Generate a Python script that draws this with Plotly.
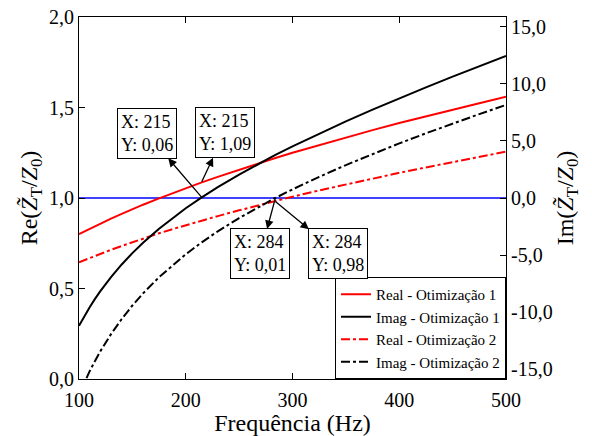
import plotly.graph_objects as go

# ---- data ----
freq = [100, 105, 110, 115, 120, 130, 140, 150, 160, 175, 190, 200, 215, 230,
        250, 270, 284, 300, 325, 350, 375, 400, 425, 450, 475, 500]

real_opt1 = [0.800, 0.815, 0.830, 0.844, 0.859, 0.886, 0.912, 0.938, 0.963, 0.998,
             1.032, 1.054, 1.086, 1.117, 1.157, 1.195, 1.221, 1.250, 1.293, 1.335,
             1.375, 1.414, 1.452, 1.488, 1.524, 1.559]

imag_opt1 = [-11.200, -10.354, -9.572, -8.844, -8.165, -6.929, -5.827, -4.831, -3.923,
             -2.691, -1.583, -0.899, 0.060, 0.951, 2.059, 3.090, 3.775, 4.529, 5.652,
             6.721, 7.746, 8.738, 9.701, 10.640, 11.558, 12.460]

real_opt2 = [0.645, 0.657, 0.669, 0.681, 0.692, 0.714, 0.735, 0.756, 0.776, 0.805,
             0.832, 0.850, 0.875, 0.900, 0.932, 0.963, 0.983, 1.007, 1.042, 1.075,
             1.108, 1.139, 1.169, 1.199, 1.228, 1.256]

imag_opt2 = [-17.224, -16.161, -15.184, -14.282, -13.445, -11.935, -10.608, -9.426,
             -8.363, -6.943, -5.692, -4.932, -3.884, -2.924, -1.759, -0.696, 0.010,
             0.753, 1.858, 2.888, 3.862, 4.787, 5.674, 6.529, 7.356, 8.160]

ref_freq = [100, 500]
ref_level = [1.0, 1.0]

series_names = ["Real - Otimização 1", "Imag - Otimização 1",
                "Real - Otimização 2", "Imag - Otimização 2"]

y_ticks = [0.0, 0.5, 1.0, 1.5, 2.0]
y_ticklabels = ["0,0", "0,5", "1,0", "1,5", "2,0"]
y2_ticks = [-15, -10, -5, 0, 5, 10, 15]
y2_ticklabels = ["-15,0", "-10,0", "-5,0", "0,0", "5,0", "10,0", "15,0"]
x_ticks = [100, 200, 300, 400, 500]

# data-tip annotations: (x, y, axis, label)
tips = [
    (215, 0.06, "y2", "X: 215<br>Y: 0,06"),
    (215, 1.09, "y", "X: 215<br>Y: 1,09"),
    (284, 0.01, "y2", "X: 284<br>Y: 0,01"),
    (284, 0.98, "y", "X: 284<br>Y: 0,98"),
]
tip_offsets = [(-55, -64), (23, -49), (-15, 56), (63, 52)]

FONT = "Liberation Serif, Times New Roman, serif"

fig = go.Figure()

fig.add_trace(go.Scatter(x=ref_freq, y=ref_level, mode="lines",
                         line=dict(color="#0000ff", width=1.5), showlegend=False,
                         hoverinfo="skip"))

fig.add_trace(go.Scatter(x=freq, y=real_opt1, mode="lines", name=series_names[0],
                         line=dict(color="#ff0000", width=2)))
fig.add_trace(go.Scatter(x=freq, y=imag_opt1, mode="lines", name=series_names[1],
                         yaxis="y2", line=dict(color="#000000", width=2)))
fig.add_trace(go.Scatter(x=freq, y=real_opt2, mode="lines", name=series_names[2],
                         line=dict(color="#ff0000", width=2, dash="dashdot")))
fig.add_trace(go.Scatter(x=freq, y=imag_opt2, mode="lines", name=series_names[3],
                         yaxis="y2", line=dict(color="#000000", width=2, dash="dashdot")))

annotations = []
for (xv, yv, ax_name, label), (dx, dy) in zip(tips, tip_offsets):
    annotations.append(dict(
        x=xv, y=yv, xref="x", yref=ax_name, text=label, align="left",
        showarrow=True, ax=dx, ay=dy, arrowside="start",
        startarrowhead=2, startarrowsize=1.3, arrowwidth=1.3, arrowcolor="black",
        bordercolor="black", borderwidth=1, borderpad=3, bgcolor="white",
        font=dict(family=FONT, size=18, color="black"),
    ))

axis_common = dict(showgrid=False, zeroline=False, showline=True, linecolor="black",
                   linewidth=1, ticks="inside", ticklen=6, tickcolor="black",
                   automargin=False,
                   tickfont=dict(family=FONT, size=20, color="black"))

fig.update_layout(
    width=592, height=436,
    margin=dict(l=79, r=86, t=17, b=57),
    paper_bgcolor="white", plot_bgcolor="white",
    font=dict(family=FONT, color="black"),
    xaxis=dict(range=[100, 500], tickvals=x_ticks, mirror="ticks", ticklabelstandoff=3,
               title=dict(text="Frequência (Hz)", font=dict(family=FONT, size=24), standoff=7),
               **axis_common),
    yaxis=dict(range=[0, 2], tickvals=y_ticks, ticktext=y_ticklabels,
               title=dict(text="Re(<i>Z̃</i><sub>T</sub>/<i>Z</i><sub>0</sub>)",
                          font=dict(family=FONT, size=24), standoff=4),
               **axis_common),
    yaxis2=dict(range=[-15.87, 15.87], tickvals=y2_ticks, ticktext=y2_ticklabels,
                overlaying="y", side="right",
                title=dict(text="Im(<i>Z̃</i><sub>T</sub>/<i>Z</i><sub>0</sub>)",
                           font=dict(family=FONT, size=24), standoff=4),
                **axis_common),
    legend=dict(x=1, xanchor="right", y=0, yanchor="bottom",
                bgcolor="white", bordercolor="black", borderwidth=1,
                font=dict(family=FONT, size=15, color="black"),
                tracegroupgap=0, itemwidth=30),
    annotations=annotations,
    showlegend=True,
)

fig.write_html("out.html")
